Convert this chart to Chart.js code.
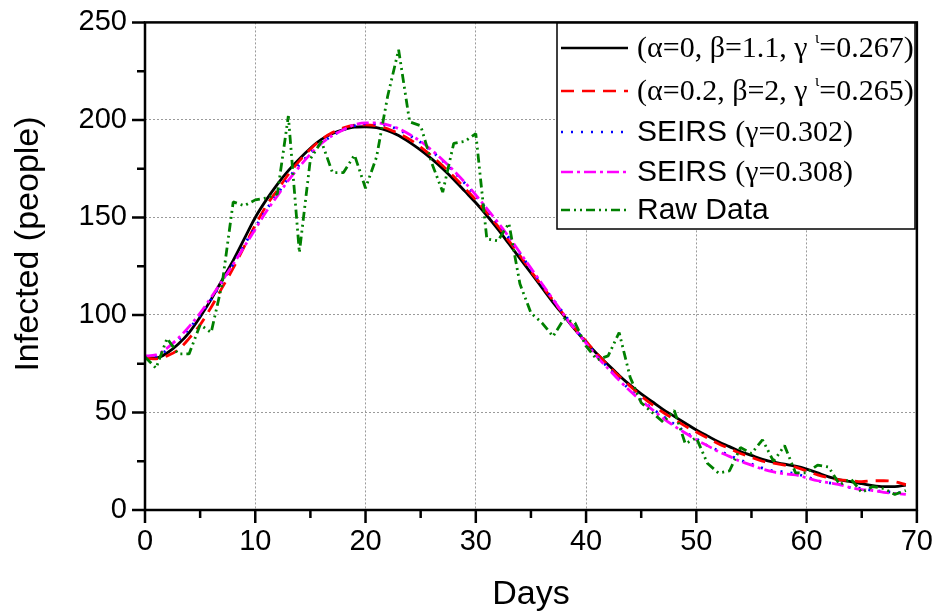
<!DOCTYPE html>
<html>
<head>
    <style>
        html, body { margin: 0; padding: 0; background: #ffffff; }
        #wrap { width: 935px; height: 615px; }
    </style>
    <script src="https://cdn.jsdelivr.net/npm/chart.js"></script>
</head>
<body>
<div id="wrap"><canvas id="infChart" width="935" height="615"></canvas></div>
<script>
    // days of the outbreak (x values)
    const days = [0, 1, 2, 3, 4, 5, 6, 7, 8, 9, 10, 11, 12, 13, 14, 15, 16, 17, 18, 19,
        20, 21, 22, 23, 24, 25, 26, 27, 28, 29, 30, 31, 32, 33, 34, 35, 36, 37, 38, 39,
        40, 41, 42, 43, 44, 45, 46, 47, 48, 49, 50, 51, 52, 53, 54, 55, 56, 57, 58, 59,
        60, 61, 62, 63, 64, 65, 66, 67, 68, 69];

    // model (alpha=0, beta=1.1)
    const fitA = [78.5, 78, 80.5, 85, 91, 99, 108, 118, 128, 139, 150, 159, 167, 174, 180, 185.5, 190, 193, 195, 196.3,
        196.5, 196, 194.5, 192, 188.5, 184.5, 180, 175, 169.5, 163.5, 157.5, 151, 144, 136.5, 129, 121.5, 114, 106.5, 99.5, 92.5,
        86, 80, 74.5, 69, 64, 59.5, 55.5, 51.5, 48, 44.5, 41, 38, 35, 32.5, 30, 28, 26, 24.5, 23.5, 22.5,
        21, 19, 17, 15.5, 14.5, 13.5, 12.5, 12, 12, 12.8];
    // model (alpha=0.2, beta=2)
    const fitB = [78, 77.5, 79, 82, 88, 95, 104, 114, 124, 135, 146, 156, 164, 172, 179, 185, 190, 193.5, 196, 197.3,
        197.5, 197, 195.5, 193, 190, 186, 181.5, 176.5, 171, 165, 159, 152.5, 145.5, 138, 130.5, 122.5, 115, 107.5, 100, 93,
        86.5, 80, 74, 68.5, 63.5, 58.5, 54, 50, 46.5, 43, 40, 37, 34, 31.5, 29, 27, 25, 24, 23, 22,
        20, 18, 16.5, 15.5, 15, 14.5, 15, 15, 14.5, 13];
    // SEIRS gamma=0.302
    const seirs302 = [78, 79, 82, 87, 93, 100, 108, 117, 126, 136, 145, 154, 162, 170, 177, 183, 188, 192, 195, 197,
        198, 198, 197, 195, 192, 188.5, 184, 179, 173.5, 167.5, 161, 154, 147, 139.5, 131.5, 123.5, 115.5, 108, 100.5, 93,
        86, 79, 73, 67, 61.5, 56.5, 52, 48, 44, 40, 36.5, 33, 30.5, 28, 25.5, 23.5, 21.5, 20, 19.5, 18.5,
        17, 15, 14, 13, 11.5, 11, 10, 9.5, 9, 8.5];
    // SEIRS gamma=0.308
    const seirs308 = [79, 79.5, 83, 88, 94, 101, 109, 117.5, 126, 135, 144, 153, 161, 169, 176, 182.5, 188, 192, 195, 197.5,
        198.5, 198.5, 197.5, 195.5, 192.5, 189, 184.5, 179.5, 174, 168, 161.5, 154.5, 147.5, 140, 132, 124, 116, 108, 100, 92.5,
        85.5, 78.5, 72.5, 66.5, 61, 56, 51.5, 47, 43, 39.5, 36, 33, 30, 27.5, 25, 23, 21, 19.5, 18.5, 18,
        16.5, 15, 14, 13, 11.5, 10.5, 10, 9, 8.5, 8];
    // observed cases
    const rawData = [78.5, 72.7, 88, 80, 80, 95, 91, 116, 158, 156, 159, 160, 162, 202, 132, 180, 189, 173, 173, 182,
        165, 181, 212, 236, 199, 197, 178, 163, 188, 189, 193, 139, 138, 147, 116, 101, 96, 89, 98, 96,
        84, 77, 79, 91, 68, 55, 50, 45, 51, 34, 37, 24, 19, 20, 32, 29, 36, 25, 33, 19,
        19, 23, 22, 13, 16, 9, 12, 11, 8, 10];

    const xTicks = [0, 10, 20, 30, 40, 50, 60, 70];
    const yTicks = [0, 50, 100, 150, 200, 250];

    const sans = '"Liberation Sans", Arial, sans-serif';
    const serif = '"Liberation Serif", "Times New Roman", serif';

    function pts(arr) {
        return days.map((d, i) => ({ x: d, y: arr[i] }));
    }

    // legend rows: pieces of text, some in Times, some in Arial
    const legendRows = [
        { color: '#000000', dash: [], parts: [['(α=0, β=1.1, γ ', serif], ['ι', serif, true], ['=0.267)', serif]] },
        { color: '#ff0000', dash: [13, 8], parts: [['(α=0.2, β=2, γ ', serif], ['ι', serif, true], ['=0.265)', serif]] },
        { color: '#0000ff', dash: [2, 8], parts: [['SEIRS ', sans], ['(γ=0.302)', serif]] },
        { color: '#ff00ff', dash: [12, 4, 3, 4], parts: [['SEIRS ', sans], ['(γ=0.308)', serif]] },
        { color: '#008000', dash: [9, 4, 2, 4, 2, 4], parts: [['Raw Data', sans]] }
    ];

    const framePlugin = {
        id: 'frame',
        afterDraw(chart) {
            const ctx = chart.ctx;
            const a = chart.chartArea;
            const xs = chart.scales.x, ys = chart.scales.y;
            ctx.save();
            ctx.strokeStyle = '#000';
            ctx.lineWidth = 2.5;
            ctx.setLineDash([]);
            ctx.strokeRect(a.left, a.top, a.right - a.left, a.bottom - a.top);

            // major + minor ticks, pointing out
            ctx.beginPath();
            for (let v = 0; v <= 70; v += 5) {
                const px = xs.getPixelForValue(v);
                const len = v % 10 === 0 ? 13 : 8;
                ctx.moveTo(px, a.bottom);
                ctx.lineTo(px, a.bottom + len);
            }
            for (let v = 0; v <= 250; v += 25) {
                const py = ys.getPixelForValue(v);
                const len = v % 50 === 0 ? 13 : 8;
                ctx.moveTo(a.left, py);
                ctx.lineTo(a.left - len, py);
            }
            ctx.stroke();

            // y axis title
            ctx.save();
            ctx.translate(29, 244);
            ctx.rotate(-Math.PI / 2);
            ctx.font = '34px ' + sans;
            ctx.fillStyle = '#000';
            ctx.textAlign = 'center';
            ctx.textBaseline = 'middle';
            ctx.fillText('Infected (people)', 0, 0);
            ctx.restore();

            // legend box
            const bx = 557, by = 23, bw = 358, bh = 206;
            ctx.fillStyle = '#ffffff';
            ctx.fillRect(bx, by, bw, bh);
            ctx.lineWidth = 1.5;
            ctx.strokeStyle = '#000';
            ctx.strokeRect(bx, by, bw, bh);

            const rowY = [48, 91, 132, 172, 210];
            legendRows.forEach((row, i) => {
                const y = rowY[i];
                ctx.strokeStyle = row.color;
                ctx.lineWidth = 2.5;
                ctx.setLineDash(row.dash);
                ctx.beginPath();
                ctx.moveTo(561, y);
                ctx.lineTo(628, y);
                ctx.stroke();
                ctx.setLineDash([]);
                let tx = 637;
                ctx.fillStyle = '#000';
                ctx.textBaseline = 'middle';
                ctx.textAlign = 'left';
                row.parts.forEach(p => {
                    const sup = p[2];
                    ctx.font = (sup ? '16px ' : '30px ') + p[1];
                    ctx.fillText(p[0], tx, sup ? y - 9 : y + 1);
                    tx += ctx.measureText(p[0]).width;
                });
            });
            ctx.restore();
        }
    };

    function gridColor(c, last) {
        const v = c.tick ? c.tick.value : 0;
        return (v === 0 || v === last) ? 'rgba(0,0,0,0)' : '#9a9a9a';
    }

    const ctx = document.getElementById('infChart').getContext('2d');
    new Chart(ctx, {
        type: 'line',
        data: {
            datasets: [
                { label: 'raw', data: pts(rawData), borderColor: '#008000', borderWidth: 2.8, borderDash: [9, 4, 2, 4, 2, 4], borderJoinStyle: 'bevel', tension: 0 },
                { label: 'g308', data: pts(seirs308), borderColor: '#ff00ff', borderWidth: 2.8, borderDash: [12, 4, 3, 4], cubicInterpolationMode: 'monotone' },
                { label: 'g302', data: pts(seirs302), borderColor: '#0000ff', borderWidth: 2.8, borderDash: [2, 8], cubicInterpolationMode: 'monotone' },
                { label: 'b2', data: pts(fitB), borderColor: '#ff0000', borderWidth: 2.8, borderDash: [13, 8], cubicInterpolationMode: 'monotone' },
                { label: 'b11', data: pts(fitA), borderColor: '#000000', borderWidth: 2.8, cubicInterpolationMode: 'monotone' }
            ]
        },
        options: {
            responsive: false,
            animation: false,
            devicePixelRatio: 1,
            layout: { padding: { top: 22, right: 15, left: 0, bottom: 0 } },
            elements: { point: { radius: 0 } },
            plugins: { legend: { display: false }, tooltip: { enabled: false } },
            scales: {
                x: {
                    type: 'linear',
                    min: 0,
                    max: 70,
                    afterBuildTicks: s => { s.ticks = xTicks.map(v => ({ value: v })); },
                    afterFit: s => { s.height = 105; },
                    ticks: { color: '#000', font: { family: sans, size: 29 }, padding: 2, maxRotation: 0 },
                    grid: { color: c => gridColor(c, 70), lineWidth: 1, tickLength: 13, tickColor: 'rgba(0,0,0,0)' },
                    border: { display: false, dash: [2, 2] },
                    title: { display: true, text: 'Days', color: '#000', font: { family: sans, size: 34 }, padding: { top: 0, bottom: 0 } }
                },
                y: {
                    min: 0,
                    max: 250,
                    afterBuildTicks: s => { s.ticks = yTicks.map(v => ({ value: v })); },
                    afterFit: s => { s.width = 145; },
                    ticks: { color: '#000', font: { family: sans, size: 29 }, padding: 5 },
                    grid: { color: c => gridColor(c, 250), lineWidth: 1, tickLength: 13, tickColor: 'rgba(0,0,0,0)' },
                    border: { display: false, dash: [2, 2] }
                }
            }
        },
        plugins: [framePlugin]
    });
</script>
</body>
</html>
